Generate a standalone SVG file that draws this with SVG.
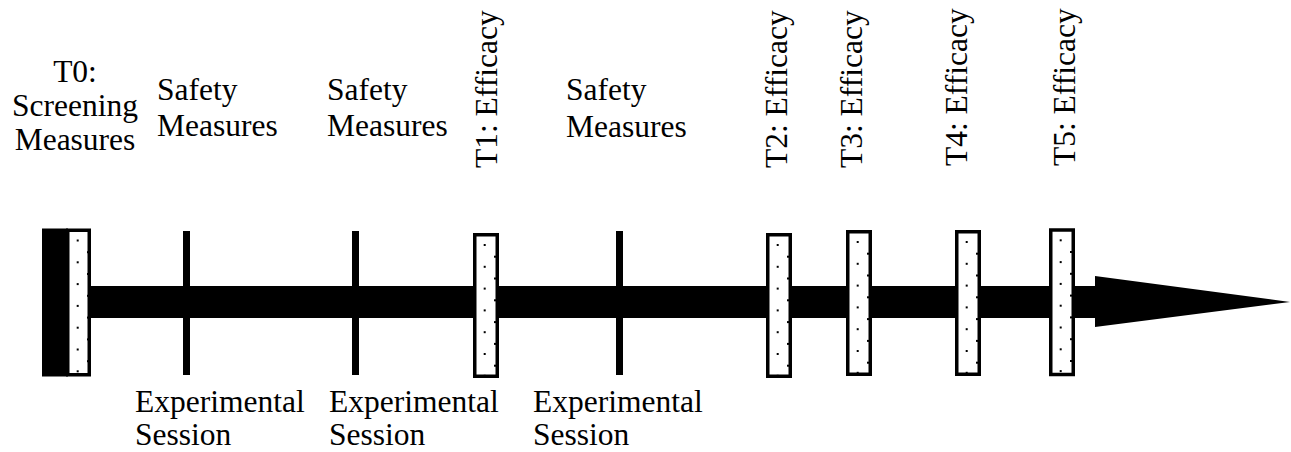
<svg xmlns="http://www.w3.org/2000/svg" xmlns:xlink="http://www.w3.org/1999/xlink" width="1291" height="452" viewBox="0 0 1291 452">
<style>
text { font-family: "Liberation Serif", "DejaVu Serif", serif; font-size: 31.5px; fill: #000; }
.mid { text-anchor: middle; }
.box { fill: #fff; stroke: #000; stroke-width: 3.5; }
.tick { fill: #000; }
.dot { fill: #000; }
</style>
<defs>
<g id="dots">
<rect class="dot" x="10.7" y="11" width="2" height="2"/>
<rect class="dot" x="10.7" y="32.8" width="2" height="2"/>
<rect class="dot" x="10.7" y="54.6" width="2" height="2"/>
<rect class="dot" x="10.7" y="76.4" width="2" height="2"/>
<rect class="dot" x="10.7" y="98.2" width="2" height="2"/>
<rect class="dot" x="10.7" y="120" width="2" height="2"/>
<rect class="dot" x="10.7" y="141.8" width="2" height="2"/>
<rect class="dot" x="21" y="22.7" width="2" height="2"/>
<rect class="dot" x="21" y="44.5" width="2" height="2"/>
<rect class="dot" x="21" y="66.3" width="2" height="2"/>
<rect class="dot" x="21" y="88.1" width="2" height="2"/>
<rect class="dot" x="21" y="109.9" width="2" height="2"/>
<rect class="dot" x="21" y="131.7" width="2" height="2"/>
</g>
</defs>
<rect width="1291" height="452" fill="#fff"/>

<g id="connectors">
<rect x="66" y="286" width="1030" height="32" fill="#000"/>
<polygon points="1095,276 1290,302 1095,327" fill="#000"/>
</g>

<g id="t0">
<rect x="42" y="228.5" width="26" height="148" fill="#000"/>
<rect class="box" x="67.75" y="230.25" width="21.5" height="144.5"/>
<use xlink:href="#dots" x="66" y="228.5"/>
<text class="mid"><tspan x="75" y="82">T0:</tspan><tspan x="75" y="116">Screening</tspan><tspan x="75" y="150">Measures</tspan></text>
</g>

<g id="safety1">
<rect class="tick" x="183" y="231" width="7" height="144"/>
<text><tspan x="157" y="100">Safety</tspan><tspan x="157" y="136">Measures</tspan></text>
<text><tspan x="135" y="412">Experimental</tspan><tspan x="135" y="445">Session</tspan></text>
</g>

<g id="safety2">
<rect class="tick" x="352" y="231" width="7" height="144"/>
<text><tspan x="327" y="100">Safety</tspan><tspan x="327" y="136">Measures</tspan></text>
<text><tspan x="329" y="412">Experimental</tspan><tspan x="329" y="445">Session</tspan></text>
</g>

<g id="t1">
<rect class="box" x="474.75" y="234.75" width="22.5" height="141.5"/>
<use xlink:href="#dots" x="473" y="233"/>
<text transform="translate(497,168) rotate(-90)">T1: Efficacy</text>
</g>

<g id="safety3">
<rect class="tick" x="616" y="231" width="7" height="144"/>
<text><tspan x="566" y="100">Safety</tspan><tspan x="566" y="137">Measures</tspan></text>
<text><tspan x="533" y="412">Experimental</tspan><tspan x="533" y="445">Session</tspan></text>
</g>

<g id="t2">
<rect class="box" x="767.75" y="234.75" width="22.5" height="141.5"/>
<use xlink:href="#dots" x="766" y="233"/>
<text transform="translate(787,168) rotate(-90)">T2: Efficacy</text>
</g>

<g id="t3">
<rect class="box" x="847.75" y="231.75" width="22.5" height="142.5"/>
<use xlink:href="#dots" x="846" y="230"/>
<text transform="translate(862,168) rotate(-90)">T3: Efficacy</text>
</g>

<g id="t4">
<rect class="box" x="956.75" y="231.75" width="22.5" height="142.5"/>
<use xlink:href="#dots" x="955" y="230"/>
<text transform="translate(967,166) rotate(-90)">T4: Efficacy</text>
</g>

<g id="t5">
<rect class="box" x="1050.75" y="230" width="22.5" height="144.5"/>
<use xlink:href="#dots" x="1049" y="228.3"/>
<text transform="translate(1075,166) rotate(-90)">T5: Efficacy</text>
</g>
</svg>
